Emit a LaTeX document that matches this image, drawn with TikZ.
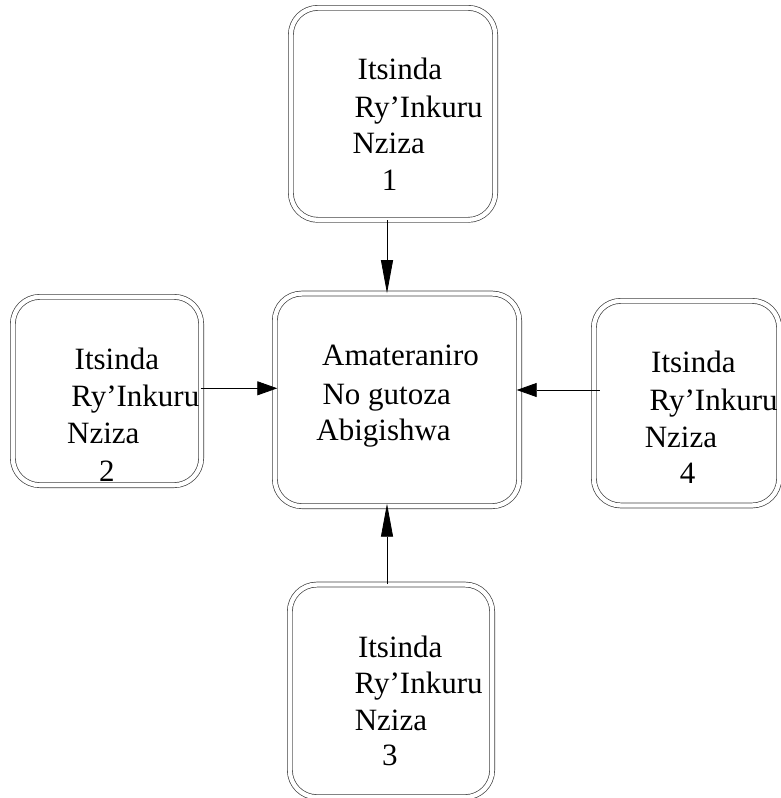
\documentclass[tikz,border=0pt]{standalone}
\usepackage{fontspec}
\setmainfont{Liberation Serif}
\usetikzlibrary{arrows.meta}
\begin{document}
\begin{tikzpicture}[x=1pt,y=-1pt,
  boxnode/.style={draw=black!75, line width=0.7pt, double, double distance=4.3pt,
    rounded corners=27pt, rectangle, inner sep=0pt},
  txt/.style={anchor=base west, inner sep=0pt, font=\fontsize{31pt}{37pt}\selectfont},
  vtip/.style={-{Triangle[length=33pt,width=12pt]}, line width=0.8pt},
  htip/.style={-{Triangle[length=20pt,width=14pt]}, line width=0.8pt, shorten >=-2.8pt}]
\useasboundingbox (0,0) rectangle (781,798);
\clip (0,0) rectangle (781,798);

% boxes
\node[boxnode, minimum width=204.3pt, minimum height=212pt] (b1) at (393,113.85) {};
\node[boxnode, minimum width=244.3pt, minimum height=212.6pt] (c) at (397,399.85) {};
\node[boxnode, minimum width=188.3pt, minimum height=188.3pt] (b2) at (107,391) {};
\node[boxnode, minimum width=185.3pt, minimum height=204.6pt] (b4) at (686.5,403.15) {};
\node[boxnode, minimum width=202.3pt, minimum height=212.6pt] (b3) at (391,690.85) {};

% texts
\node[txt] (t1a) at (357.5,79) {Itsinda};
\node[txt] (t1b) at (354.5,117) {Ry’Inkuru};
\node[txt] (t1c) at (352.3,153) {Nziza};
\node[txt] (t1d) at (381.6,190) {1};

\node[txt] (tca) at (322,365) {Amateraniro};
\node[txt] (tcb) at (322.3,404) {No gutoza};
\node[txt] (tcc) at (316.2,440) {Abigishwa};

\node[txt] (t2a) at (74.5,369) {Itsinda};
\node[txt] (t2b) at (71.2,406) {Ry’Inkuru};
\node[txt] (t2c) at (67,443) {Nziza};
\node[txt] (t2d) at (99,481) {2};

\node[txt] (t4a) at (651,372) {Itsinda};
\node[txt] (t4b) at (649.5,410) {Ry’Inkuru};
\node[txt] (t4c) at (644.6,447) {Nziza};
\node[txt] (t4d) at (679.7,483) {4};

\node[txt] (t3a) at (357.8,657) {Itsinda};
\node[txt] (t3b) at (354.5,693) {Ry’Inkuru};
\node[txt] (t3c) at (354.6,730) {Nziza};
\node[txt] (t3d) at (382,765) {3};

% connector start points
\coordinate (s1) at ([xshift=-6pt]b1.south);
\coordinate (s3) at ([xshift=-4pt]b3.north);
\coordinate (s2) at ([shift={(-1pt,2.7pt)}]b2.east);
\coordinate (s4) at ([shift={(6.15pt,13.15pt)}]b4.west);

% connectors
\draw[vtip] (s1) -- (s1 |- c.north);
\draw[vtip, shorten >=-2.8pt] (s3) -- (s3 |- c.south);
\draw[htip] (s2) -- (c.west |- s2);
\draw[htip] (s4) -- (c.east |- s4);
\end{tikzpicture}
\end{document}
